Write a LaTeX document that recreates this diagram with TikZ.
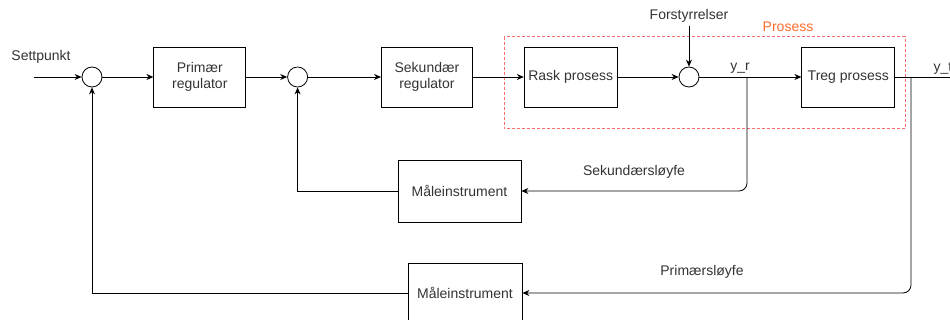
\documentclass[tikz,border=0pt]{standalone}
\usepackage{fontspec}
\setmainfont{Liberation Sans}
\usetikzlibrary{arrows.meta, positioning}
\usetikzlibrary{calc}
\definecolor{ProsessRed}{HTML}{FF6B6B}
\definecolor{ProsessOrange}{HTML}{FF6A2B}

\begin{document}
\begin{tikzpicture}[
        x=1pt, y=1pt,
        every node/.style={align=center, font=\fontsize{14}{16.5}\selectfont, text=black!80},
        box/.style={draw, thick, minimum width=92pt, minimum height=60pt, inner sep=2pt},
        sum/.style={draw, thick, circle, minimum size=20pt, inner sep=0pt},
        arrow/.style={thick, -{Stealth[length=7pt, width=6pt]}},
        line/.style={thick},
        prosessbox/.style={draw=ProsessRed, densely dashed}
    ]
        \useasboundingbox (0,0) rectangle (950,-320);

        \node[sum] (sum1) at (92,-77) {};
        \node[box, right=51pt of sum1] (prim) {Primær\\regulator};
        \node[sum, right=41pt of prim] (sum2) {};
        \node[box, minimum width=91pt, right=73pt of sum2] (sek) {Sekundær\\regulator};
        \node[box, minimum width=93pt, right=51pt of sek] (rask) {Rask prosess};
        \node[sum, right=61pt of rask] (sum3) {};
        \node[box, minimum width=93pt, right=102pt of sum3] (treg) {Treg prosess};
        \node[box, minimum width=123pt, minimum height=62pt] (mal1) at (459.5,-191) {Måleinstrument};
        \node[box, minimum width=114pt] (mal2) at (465,-293) {Måleinstrument};

        \node (settpunkt) at (41,-57) {Settpunkt};
        \coordinate (inn) at (34,-77);
        \coordinate[above=41pt of sum3.north] (forstinn);
        \node[above=0pt of forstinn] (forst) {Forstyrrelser};
        \coordinate (yr) at (747,-77);
        \coordinate (yt) at (911,-77);
        \coordinate (ut) at (950,-77);

        % prosess
        \draw[prosessbox] ($(rask.north west)+(-20,10)$) rectangle ($(treg.south east)+(10,-21)$);
        \node[text=ProsessOrange] (prosess) at (788,-27) {Prosess};

        % forover
        \draw[arrow] (inn) -- (sum1);
        \draw[arrow] (sum1) -- (prim);
        \draw[arrow] (prim) -- (sum2);
        \draw[arrow] (sum2) -- (sek);
        \draw[arrow] (sek) -- (rask);
        \draw[arrow] (rask) -- (sum3);
        \draw[arrow] (forstinn) -- (sum3);
        \draw[arrow] (sum3) -- (treg);
        \draw[line] (treg) -- (ut);
        \node at (740,-68) {y\_r};
        \node at (943,-68) {y\_t};

        % sekundaersloyfe
        \draw[arrow, rounded corners=8pt] (yr) |- (mal1);
        \draw[arrow] (mal1) -| (sum2);
        \node at (634,-172) {Sekundærsløyfe};

        % primaersloyfe
        \draw[arrow, rounded corners=8pt] (yt) |- (mal2);
        \draw[arrow] (mal2) -| (sum1);
        \node at (702,-272) {Primærsløyfe};
    \end{tikzpicture}
\end{document}
